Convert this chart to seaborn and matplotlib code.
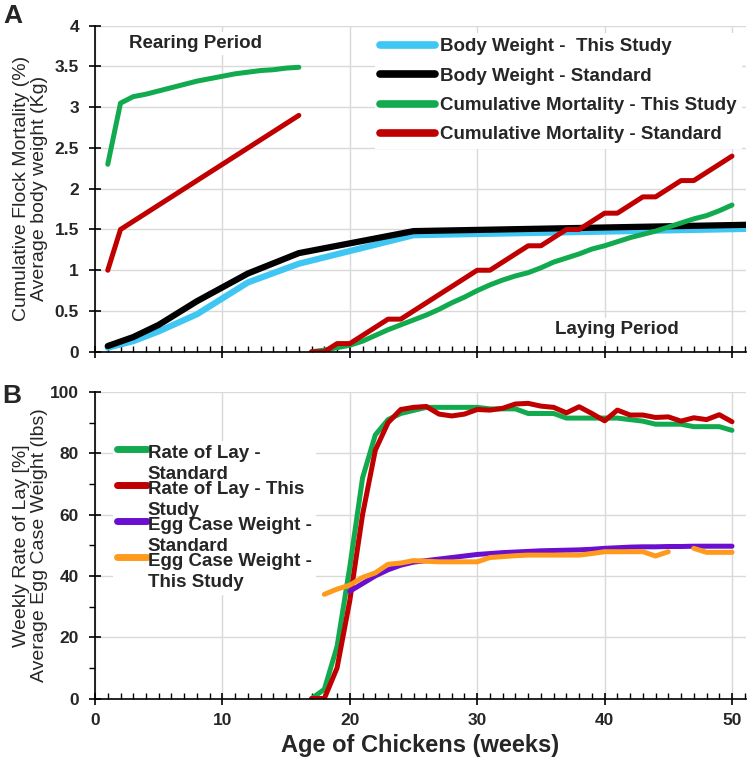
import numpy as np
import pandas as pd
import matplotlib
matplotlib.use('Agg')
import matplotlib.pyplot as plt
import seaborn as sns
from matplotlib.ticker import MultipleLocator, FuncFormatter
from matplotlib.legend_handler import HandlerLine2D

sns.set_style('white')
plt.rcParams['font.family'] = ['Liberation Sans', 'DejaVu Sans']

# ---------------- Panel A: body weight and mortality ----------------
bw_weeks = [1, 3, 5, 8, 12, 16, 25, 52]
bw_study = [0.05, 0.13, 0.25, 0.46, 0.85, 1.08, 1.43, 1.51]
bw_std = [0.07, 0.18, 0.33, 0.62, 0.96, 1.21, 1.48, 1.56]

rear_weeks = list(range(1, 17))
mort_rear_study = [2.3, 3.05, 3.13, 3.16, 3.2, 3.24, 3.28, 3.32, 3.35, 3.38,
                   3.41, 3.43, 3.45, 3.46, 3.48, 3.49]
mort_rear_std = [1.0, 1.5, 1.6, 1.7, 1.8, 1.9, 2.0, 2.1, 2.2, 2.3,
                 2.4, 2.5, 2.6, 2.7, 2.8, 2.9]

lay_weeks = list(range(17, 51))
mort_lay_study = [0.0, 0.02, 0.05, 0.08, 0.13, 0.2, 0.27, 0.33, 0.39, 0.45,
                  0.52, 0.6, 0.67, 0.75, 0.82, 0.88, 0.93, 0.97, 1.03, 1.1,
                  1.15, 1.2, 1.26, 1.3, 1.35, 1.4, 1.44, 1.48, 1.53, 1.58,
                  1.63, 1.67, 1.73, 1.8]
mort_lay_std = [0.0, 0.0, 0.1, 0.1, 0.2, 0.3, 0.4, 0.4, 0.5, 0.6,
                0.7, 0.8, 0.9, 1.0, 1.0, 1.1, 1.2, 1.3, 1.3, 1.4,
                1.5, 1.5, 1.6, 1.7, 1.7, 1.8, 1.9, 1.9, 2.0, 2.1,
                2.1, 2.2, 2.3, 2.4]

# ---------------- Panel B: rate of lay and egg case weight ----------------
lay_std = [0, 3, 17, 43, 72, 86, 91, 93, 94, 95,
           95, 95, 95, 95, 94.5, 94.5, 94.5, 93, 93, 93,
           91.5, 91.5, 91.5, 91.5, 91.5, 91, 90.5, 89.5, 89.5, 89.5,
           88.7, 88.7, 88.7, 87.5]
lay_study = [0, 0, 10, 32, 60, 81, 90, 94.3, 95, 95.3,
             92.8, 92.2, 92.8, 94.3, 94.1, 94.7, 96.1, 96.3, 95.4, 95,
             93.2, 95.2, 93, 90.6, 94.1, 92.5, 92.5, 91.7, 91.9, 90.5,
             91.6, 91, 92.6, 90.3]

egg_std_weeks = list(range(20, 51))
egg_std = [35, 37.5, 40, 42, 43.5, 44.5, 45, 45.5, 46, 46.5,
           47, 47.3, 47.6, 47.8, 48, 48.2, 48.3, 48.4, 48.5, 48.7,
           49, 49.2, 49.4, 49.5, 49.5, 49.6, 49.6, 49.7, 49.7, 49.7, 49.7]
egg_study_weeks = list(range(18, 51))
egg_study = [34, 35.7, 37, 39.5, 41, 43.8, 44.2, 45, 44.8, 44.6,
             44.6, 44.6, 44.6, 46, 46.3, 46.6, 46.8, 46.8, 46.8, 46.8,
             46.8, 47.3, 47.9, 47.9, 47.9, 47.9, 46.5, 47.9, np.nan, 49,
             47.7, 47.7, 47.7]

c_blue = '#3fc6f2'
c_black = '#000000'
c_green = '#12aa4f'
c_red = '#c00000'
c_purple = '#6a0fcf'
c_orange = '#ff9a1c'


def draw(ax, weeks, vals, color, lw, label=None):
    df = pd.DataFrame({'week': weeks, 'val': vals})
    seg = df['val'].isna().cumsum()
    ok = df['val'].notna()
    first = True
    for _, part in df[ok].groupby(seg[ok]):
        sns.lineplot(data=part, x='week', y='val', color=color, lw=lw, ax=ax,
                     label=label if first else None, estimator=None, sort=False,
                     solid_capstyle='round', solid_joinstyle='round')
        first = False


class TopLineHandler(HandlerLine2D):
    # put the legend line next to the first line of a two-line label
    def create_artists(self, legend, orig_handle, xdescent, ydescent,
                       width, height, fontsize, trans):
        arts = super().create_artists(legend, orig_handle, xdescent, ydescent,
                                      width, height, fontsize, trans)
        for a in arts:
            a.set_ydata(np.asarray(a.get_ydata()) + fontsize * 0.8)
        return arts


fig = plt.figure(figsize=(7.5, 7.63), dpi=100)
axA = fig.add_axes([0.1267, 0.539, 0.868, 0.4273])
axB = fig.add_axes([0.1267, 0.0845, 0.868, 0.4017])

draw(axA, bw_weeks, bw_study, c_blue, 4.5, 'Body Weight -  This Study')
draw(axA, bw_weeks, bw_std, c_black, 4.5, 'Body Weight - Standard')
draw(axA, rear_weeks, mort_rear_study, c_green, 3.6, 'Cumulative Mortality - This Study')
draw(axA, rear_weeks, mort_rear_std, c_red, 3.6, 'Cumulative Mortality - Standard')
draw(axA, lay_weeks, mort_lay_study, c_green, 3.6)
draw(axA, lay_weeks, mort_lay_std, c_red, 3.6)

draw(axB, lay_weeks, lay_std, c_green, 3.6, 'Rate of Lay -\nStandard')
draw(axB, lay_weeks, lay_study, c_red, 3.6, 'Rate of Lay - This\nStudy')
draw(axB, egg_std_weeks, egg_std, c_purple, 3.6, 'Egg Case Weight -\nStandard')
draw(axB, egg_study_weeks, egg_study, c_orange, 3.6, 'Egg Case Weight -\nThis Study')

for ax in (axA, axB):
    ax.set_xlim(0, 51.1)
    ax.xaxis.set_major_locator(MultipleLocator(10))
    ax.xaxis.set_minor_locator(MultipleLocator(1))
    ax.grid(True, which='major', color='#d9d9d9', lw=1)
    ax.set_axisbelow(True)
    for s in ('top', 'right'):
        ax.spines[s].set_visible(False)
    for s in ('left', 'bottom'):
        ax.spines[s].set_color('black')
        ax.spines[s].set_linewidth(1.2)
    ax.tick_params(which='major', direction='inout', length=9, width=1.2, color='black')
    ax.tick_params(axis='x', which='minor', direction='in', length=4, width=1, color='black', bottom=True)
    ax.tick_params(axis='y', which='major', left=True, pad=7)
    ax.tick_params(axis='x', which='major', bottom=True, pad=6)
    ax.yaxis.set_major_formatter(FuncFormatter(lambda v, p: f'{v:g}'))

axA.set_ylim(0, 4)
axA.yaxis.set_major_locator(MultipleLocator(0.5))
axA.tick_params(axis='x', labelbottom=False)
axA.set_xlabel('')
axA.set_ylabel('Cumulative Flock Mortality (%)\nAverage body weight (Kg)',
               fontsize=14, linespacing=1.1)
axA.yaxis.set_label_coords(-0.072, 0.5)

axB.set_ylim(0, 100)
axB.yaxis.set_major_locator(MultipleLocator(20))
axB.yaxis.set_minor_locator(MultipleLocator(10))
axB.tick_params(axis='y', which='minor', direction='out', length=4, width=1, color='black', left=True)
axB.set_ylabel('Weekly Rate of Lay [%]\nAverage Egg Case Weight (lbs)',
               fontsize=14, linespacing=1.1)
axB.yaxis.set_label_coords(-0.072, 0.5)
axB.set_xlabel('Age of Chickens (weeks)', fontsize=17, fontweight='bold', labelpad=4)
for lab in axA.get_yticklabels() + axB.get_yticklabels() + axB.get_xticklabels():
    lab.set_fontsize(12.5)
    lab.set_fontweight('bold')

axA.text(7.9, 3.78, 'Rearing Period', ha='center', va='center', fontsize=13.5,
         fontweight='bold', bbox=dict(facecolor='white', edgecolor='none', pad=2))
axA.text(41, 0.27, 'Laying Period', ha='center', va='center', fontsize=13.5,
         fontweight='bold', bbox=dict(facecolor='white', edgecolor='none', pad=2))

hA, lA = axA.get_legend_handles_labels()
legA = axA.legend(hA, lA, loc='upper right', bbox_to_anchor=(1.0, 0.99),
                  prop={'weight': 'bold', 'size': 13.5},
                  frameon=True, facecolor='white', edgecolor='none', framealpha=1,
                  fancybox=False, handlelength=2.9, handletextpad=0.3,
                  labelspacing=0.65, borderpad=0.3, borderaxespad=0.2)
for ln in legA.get_lines():
    ln.set_linewidth(5.5)

hB, lB = axB.get_legend_handles_labels()
legB = axB.legend(hB, lB, loc='upper left', bbox_to_anchor=(0.028, 0.84),
                  prop={'weight': 'bold', 'size': 13.5},
                  frameon=True, facecolor='white', edgecolor='none', framealpha=1,
                  fancybox=False, handlelength=1.6, handletextpad=0.05,
                  labelspacing=-0.1, borderpad=0.2, borderaxespad=0,
                  handler_map={l: TopLineHandler() for l in hB})
for t in legB.get_texts():
    t.set_linespacing(1.3)
for ln in legB.get_lines():
    ln.set_linewidth(5)

fig.text(0.005, 0.995, 'A', fontsize=19, fontweight='bold', va='top', ha='left')
fig.text(0.003, 0.497, 'B', fontsize=19, fontweight='bold', va='top', ha='left')

fig.savefig('out.png', dpi=100)
